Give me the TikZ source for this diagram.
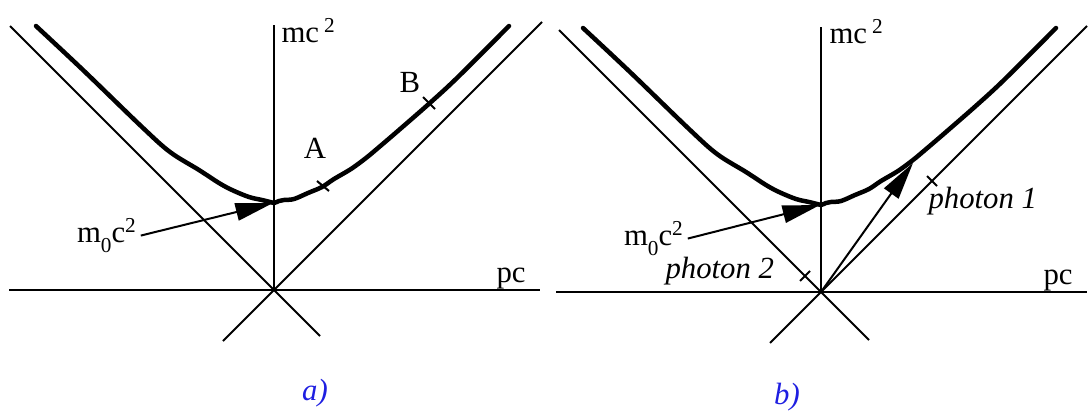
\documentclass[tikz,border=0pt]{standalone}
\usepackage{fontspec}
\setmainfont{Liberation Serif}
\usetikzlibrary{arrows.meta}
\definecolor{capblue}{RGB}{30,30,225}
\newcommand{\lowidx}[1]{\raisebox{-4.2pt}{\fontsize{8.5}{9}\selectfont #1}}
\newcommand{\highidx}[1]{\raisebox{3.8pt}{\fontsize{8.5}{9}\selectfont #1}}

\begin{document}
\begin{tikzpicture}[
  x=0.4pt,y=-0.4pt,
  font=\fontsize{12.3}{14}\selectfont,
  thinline/.style={line width=0.8pt},
  heavy/.style={line width=1.8pt,line cap=round,line join=round},
  lbl/.style={inner sep=0pt},
  sublabel/.style={text=capblue,font=\fontsize{12.3}{14}\selectfont\itshape},
  >={Triangle[length=15pt,width=7pt]},
  hyperbola/.pic={
    \draw[heavy] plot[smooth,tension=0.55] coordinates {
      (-238,-264) (-191,-220) (-132,-163) (-104,-138) (-75,-120) (-55,-107)
      (-42,-100) (-25,-93) (-12,-90) (-4,-88) (0,-87) (5,-89) (10,-90)
      (20,-91) (34,-97) (48,-103) (60,-111) (77,-121) (92,-132) (104,-142)
      (125,-160) (157,-188) (184,-213) (235,-264)};
  }
]
\useasboundingbox (0,0) rectangle (1088,414);

% a) particle curve with points A and B
\begin{scope}[shift={(274,290)}]
  \coordinate (oa) at (0,0);
  \draw[thinline] (-265,0) -- (266,0);
  \draw[thinline] (0,0) -- (0,-265);
  \draw[thinline] (-264,-264) -- (46,46);
  \draw[thinline] (-51,51) -- (268,-268);
  \pic {hyperbola};
  \coordinate (mina) at (-1,-87);
  \coordinate (tA) at (49,-104);
  \coordinate (tB) at (155,-187);
  \draw[thinline] (tA) ++(-6,-5) -- ++(12,10);
  \draw[thinline] (tB) ++(-6,-6) -- ++(12,12);
  \node[lbl] (ptA) at (41,-142) {A};
  \node[lbl] (ptB) at (136,-208) {B};
  \node[lbl,anchor=base west] (ya) at (7,-248) {mc\hspace{2pt}\highidx{2}};
  \node[lbl,anchor=base west] (xa) at (222,-8) {pc};
  \node[lbl,anchor=base west,outer sep=2pt] (ma) at (-202,-48) {m\lowidx{0}c\highidx{2}};
  \draw[thinline,->] (ma.east) -- (mina);
\end{scope}
\node[sublabel] (capa) at (315,393) {a)};

% b) decay into two photons
\begin{scope}[shift={(821,292)}]
  \coordinate (ob) at (0,0);
  \draw[thinline] (-265,0) -- (266,0);
  \draw[thinline] (0,0) -- (0,-265);
  \draw[thinline] (-262,-262) -- (48,48);
  \draw[thinline] (-51,51) -- (266,-266);
  \pic {hyperbola};
  \coordinate (minb) at (-1,-87);
  \coordinate (hit) at (92,-129);
  \coordinate (t1) at (111,-111);
  \coordinate (t2) at (-16,-16);
  \draw[thinline] (t1) ++(-5,-5) -- ++(10,10);
  \draw[thinline] (t2) ++(-5,5) -- ++(10,-10);
  \node[lbl,anchor=base west] (yb) at (8,-249) {mc\hspace{2pt}\highidx{2}};
  \node[lbl,anchor=base west] (xb) at (222,-8) {pc};
  \node[lbl,anchor=base west,outer sep=2pt] (mb) at (-202,-47) {m\lowidx{0}c\highidx{2}};
  \node[lbl,anchor=base west,font=\fontsize{12.3}{14}\selectfont\itshape] (ph1) at (107,-84) {photon 1};
  \node[lbl,anchor=base west,font=\fontsize{12.3}{14}\selectfont\itshape] (ph2) at (-156,-14) {photon 2};
  \draw[thinline,->] (mb.east) -- (minb);
  \draw[thinline,->] (ob) -- (hit);
\end{scope}
\node[sublabel] (capb) at (787,397) {b)};
\end{tikzpicture}
\end{document}
